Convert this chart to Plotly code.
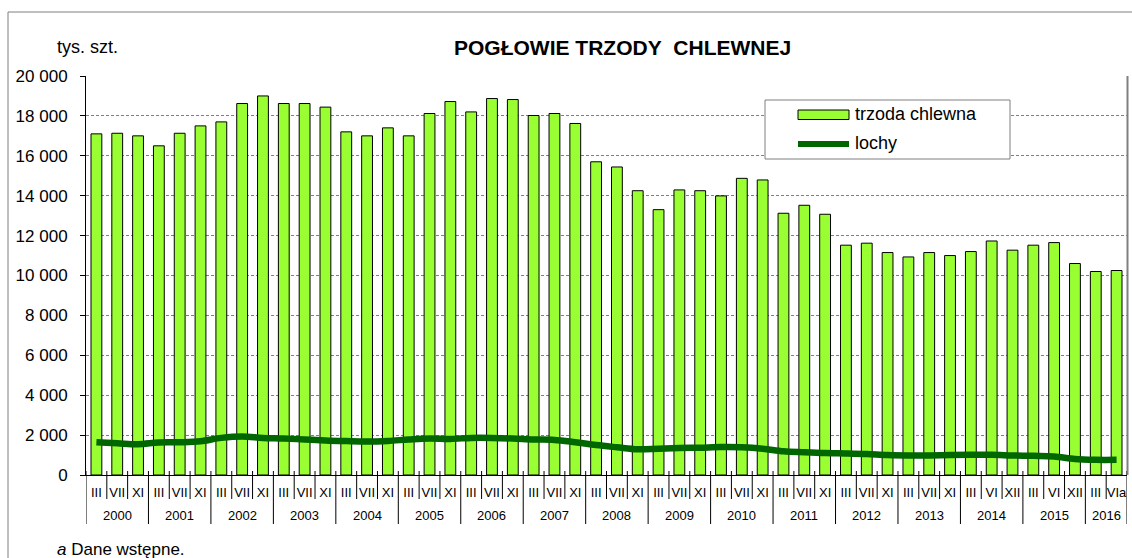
import plotly.graph_objects as go

# ---- data ----
years = ["2000", "2001", "2002", "2003", "2004", "2005", "2006", "2007",
         "2008", "2009", "2010", "2011", "2012", "2013", "2014", "2015", "2016"]
months_per_year = {
    **{y: ["III", "VII", "XI"] for y in years[:14]},
    "2014": ["III", "VI", "XII"],
    "2015": ["III", "VI", "XII"],
    "2016": ["III", "VIa"],
}
trzoda = [17100, 17130, 17000,
          16500, 17130, 17500,
          17700, 18620, 19000,
          18620, 18620, 18440,
          17200, 17000, 17400,
          17000, 18120, 18720,
          18200, 18870, 18820,
          18020, 18120, 17620,
          15700, 15440, 14250,
          13300, 14290, 14250,
          13990, 14870, 14790,
          13120, 13520, 13070,
          11520, 11620, 11150,
          10930, 11150, 11000,
          11200, 11730, 11270,
          11520, 11650, 10600,
          10200, 10250]
lochy = [1640, 1590, 1540,
         1630, 1640, 1690,
         1860, 1930, 1860,
         1830, 1780, 1730,
         1700, 1680, 1710,
         1780, 1830, 1810,
         1860, 1860, 1830,
         1780, 1760, 1640,
         1500, 1390, 1290,
         1320, 1350, 1370,
         1400, 1390, 1320,
         1190, 1140, 1100,
         1080, 1050, 1000,
         980, 980, 1000,
         1010, 1010, 980,
         960, 930, 800,
         760, 760]
y_ticks = list(range(0, 20001, 2000))

# ---- derived categories ----
cat_year, cat_month = [], []
for y in years:
    for m in months_per_year[y]:
        cat_year.append(y)
        cat_month.append(m)
cats = [f"{m} {y}" for y, m in zip(cat_year, cat_month)]
n = len(cats)

FONT = "Arial, Liberation Sans, sans-serif"
L, R, T, B = 86, 5, 76, 83
W, H = 1132, 558
PW, PH = W - L - R, H - T - B


def px_x(px):
    return (px - L) / PW


def px_y(py):
    return (H - B - py) / PH


fig = go.Figure()
fig.add_trace(go.Bar(
    x=cats, y=trzoda, name="trzoda chlewna", width=0.52,
    marker=dict(color="#99FF33", line=dict(color="black", width=1)),
    showlegend=False,
))
fig.add_trace(go.Scatter(
    x=cats, y=lochy, name="lochy", mode="lines",
    line=dict(color="#006600", width=6.5, shape="spline", smoothing=1),
    showlegend=False,
))

shapes = []
# outer frame
shapes.append(dict(type="rect", xref="paper", yref="paper",
                   x0=px_x(8), x1=px_x(1140), y0=px_y(12), y1=px_y(600),
                   line=dict(color="#7f7f7f", width=1), layer="below"))
# plot area right border
shapes.append(dict(type="line", xref="paper", yref="paper",
                   x0=px_x(1127.5), x1=px_x(1127.5), y0=0, y1=1,
                   line=dict(color="#808080", width=2)))
# category separators
for b in range(n + 1):
    year_edge = b == 0 or b == n or cat_year[b] != cat_year[b - 1]
    y0 = px_y(524) if year_edge else px_y(499)
    shapes.append(dict(type="line", xref="x", yref="paper",
                       x0=b - 0.5, x1=b - 0.5, y0=y0, y1=px_y(471),
                       line=dict(color="black", width=1)))

# legend (manual)
shapes.append(dict(type="rect", xref="paper", yref="paper",
                   x0=px_x(765), x1=px_x(1010), y0=px_y(159), y1=px_y(100),
                   line=dict(color="#7f7f7f", width=1), fillcolor="white"))
shapes.append(dict(type="rect", xref="paper", yref="paper",
                   x0=px_x(798), x1=px_x(849), y0=px_y(119.5), y1=px_y(110),
                   line=dict(color="black", width=1), fillcolor="#99FF33"))
shapes.append(dict(type="line", xref="paper", yref="paper",
                   x0=px_x(798), x1=px_x(849), y0=px_y(144), y1=px_y(144),
                   line=dict(color="#006600", width=6)))

annotations = []
for y in years:
    idx = [i for i, cy in enumerate(cat_year) if cy == y]
    annotations.append(dict(x=sum(idx) / len(idx), y=px_y(515), xref="x", yref="paper",
                            text=y, showarrow=False, xanchor="center", yanchor="middle",
                            font=dict(family=FONT, size=13, color="black")))
annotations += [
    dict(x=px_x(853), y=px_y(114.5), xref="paper", yref="paper", text="trzoda chlewna",
         showarrow=False, xanchor="left", yanchor="middle",
         font=dict(family=FONT, size=18, color="black")),
    dict(x=px_x(853), y=px_y(143), xref="paper", yref="paper", text="lochy",
         showarrow=False, xanchor="left", yanchor="middle",
         font=dict(family=FONT, size=18, color="black")),
    dict(x=px_x(622), y=px_y(47), xref="paper", yref="paper",
         text="<b>POGŁOWIE TRZODY&nbsp; CHLEWNEJ</b>",
         showarrow=False, xanchor="center", yanchor="middle",
         font=dict(family=FONT, size=21, color="black")),
    dict(x=px_x(55), y=px_y(47), xref="paper", yref="paper", text="tys. szt.",
         showarrow=False, xanchor="left", yanchor="middle",
         font=dict(family=FONT, size=18, color="black")),
    dict(x=px_x(55), y=px_y(549), xref="paper", yref="paper", text="<i>a</i> Dane wstępne.",
         showarrow=False, xanchor="left", yanchor="middle",
         font=dict(family=FONT, size=17, color="black")),
]

fig.update_layout(
    width=W, height=H,
    margin=dict(l=L, r=R, t=T, b=B, pad=0),
    paper_bgcolor="white", plot_bgcolor="white",
    separators=", ",
    shapes=shapes, annotations=annotations,
    xaxis=dict(type="category", categoryorder="array", categoryarray=cats,
               range=[-0.5, n - 0.5],
               tickmode="array", tickvals=cats, ticktext=cat_month,
               ticks="outside", ticklen=5, tickcolor="rgba(0,0,0,0)",
               tickangle=0,
               tickfont=dict(family=FONT, size=13, color="black"),
               showline=True, linecolor="black", linewidth=1,
               showgrid=False, zeroline=False, fixedrange=True),
    yaxis=dict(range=[0, 20000], tickmode="array", tickvals=y_ticks,
               tickformat=",d",
               ticks="outside", ticklen=5, tickcolor="black",
               ticklabelstandoff=9,
               tickfont=dict(family=FONT, size=17, color="black"),
               showline=True, linecolor="black", linewidth=1,
               showgrid=True, gridcolor="#808080", gridwidth=1, griddash="3px,2px",
               zeroline=False, fixedrange=True),
    showlegend=False,
)

fig.write_html("out.html", config={"staticPlot": True},
               post_script="document.body.style.margin='0';document.body.style.overflow='hidden';")
